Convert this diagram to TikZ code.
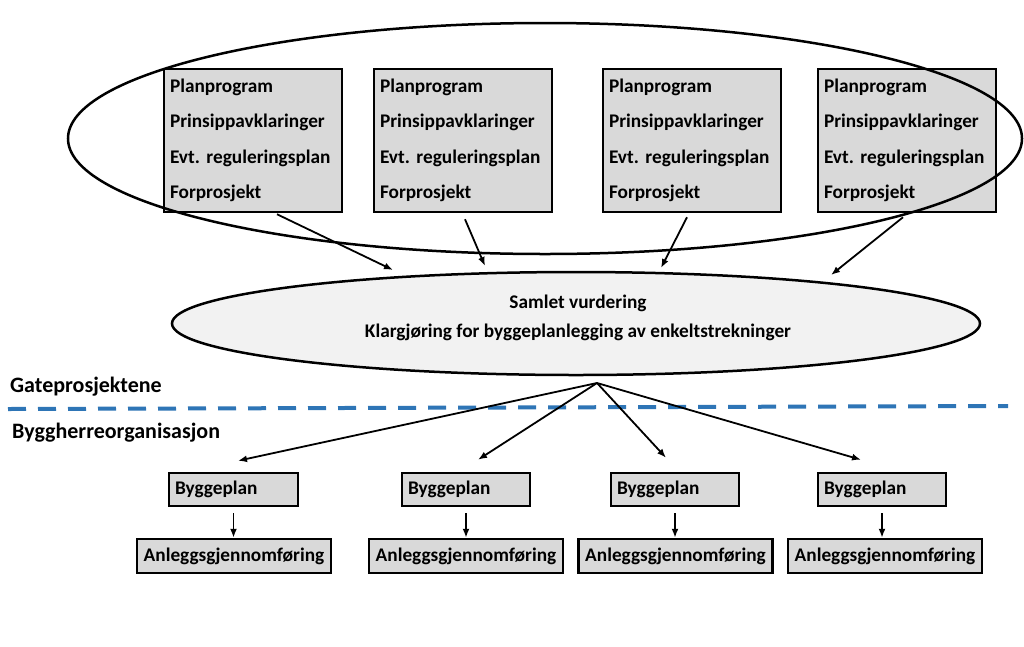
\documentclass[tikz,border=0pt]{standalone}
\usepackage{fontspec}
\setmainfont{Carlito}
\frenchspacing
\usetikzlibrary{shapes.geometric,arrows.meta,calc}
\definecolor{boxgray}{HTML}{D9D9D9}
\definecolor{ellgray}{HTML}{F2F2F2}
\definecolor{dashblue}{HTML}{2E75B6}
\tikzset{
  txt/.style={font=\fontsize{19.3}{35.5}\selectfont\bfseries},
  sidetxt/.style={font=\fontsize{22}{26}\selectfont\bfseries},
  topbox/.style={draw, line width=2.5pt, fill=boxgray, txt, align=left, text width=166pt, inner sep=6pt, minimum height=143pt},
  planbox/.style={draw, line width=2.5pt, fill=boxgray, txt, align=left, inner sep=6pt, minimum height=33pt},
  anlbox/.style={draw, line width=2.5pt, fill=boxgray, txt, align=center, inner sep=0pt, minimum width=194pt, minimum height=34pt},
  conn/.style={line width=1.8pt, -{Latex[length=9pt,width=7pt]}},
}
\begin{document}
\begin{tikzpicture}[x=1pt,y=-1pt]
\useasboundingbox (0,0) rectangle (1024,646);
% top boxes
\node[topbox] (b1) at (253,140.5) {Planprogram\\Prinsippavklaringer\\Evt. reguleringsplan\\Forprosjekt};
\node[topbox] (b2) at (463,140.5) {Planprogram\\Prinsippavklaringer\\Evt. reguleringsplan\\Forprosjekt};
\node[topbox] (b3) at (692,140.5) {Planprogram\\Prinsippavklaringer\\Evt. reguleringsplan\\Forprosjekt};
\node[topbox] (b4) at (907,140.5) {Planprogram\\Prinsippavklaringer\\Evt. reguleringsplan\\Forprosjekt};
% big ellipse
\node[draw, line width=2.5pt, ellipse, inner sep=0pt, minimum width=954pt, minimum height=231pt] (big) at (545,138.5) {};
% middle ellipse
\node[draw, line width=2.5pt, fill=ellgray, ellipse, inner sep=0pt, minimum width=808pt, minimum height=103pt] (mid) at (576,323.5) {};
\node[align=center, font=\fontsize{19.3}{29}\selectfont\bfseries] (midtxt) at (578,318) {Samlet vurdering\\Klargjøring for byggeplanlegging av enkeltstrekninger};
% arrows into middle ellipse
\coordinate (m1) at (393,270);
\coordinate (m2) at (485,266);
\coordinate (m3) at (661,268);
\coordinate (m4) at (831,275);
\draw[conn] ($(b1.south)+(24,1)$) -- (m1);
\draw[conn] ($(b2.south)+(2,6)$) -- (m2);
\draw[conn] ($(b3.south)+(-5,4)$) -- (m3);
\draw[conn] ($(b4.south)+(-4,4)$) -- (m4);
% dashed separator
\coordinate (dl) at (8,409);
\coordinate (dr) at (1008,406);
\draw[dashblue, line width=4pt, dash pattern=on 18pt off 12pt] (dl) -- (dr);
\node[sidetxt, anchor=west, inner sep=0pt] (gate) at (10,387) {Gateprosjektene};
\node[sidetxt, anchor=west, inner sep=0pt] (bygg) at (12,433) {Byggherreorganisasjon};
% bottom boxes
\node[planbox, text width=117pt] (p1) at (233.5,489.5) {Byggeplan};
\node[planbox, text width=116pt] (p2) at (466,489.5) {Byggeplan};
\node[planbox, text width=116pt] (p3) at (675,489.5) {Byggeplan};
\node[planbox, text width=116pt] (p4) at (882,489.5) {Byggeplan};
\node[anlbox] (a1) at (234,556) {Anleggsgjennomføring};
\node[anlbox] (a2) at (466,556) {Anleggsgjennomføring};
\node[anlbox] (a3) at (675.5,556) {Anleggsgjennomføring};
\node[anlbox] (a4) at (885,556) {Anleggsgjennomføring};
% apex arrows
\coordinate (apex) at (597,383);
\draw[conn] (apex) -- ($(p1.north)+(4.5,-11)$);
\draw[conn] (apex) -- ($(p2.north)+(12,-12)$);
\draw[conn] (apex) -- ($(p3.north)+(-9,-14)$);
\draw[conn] (apex) -- ($(p4.north)+(-21,-12)$);
% small arrows
\draw[conn] ($(p1.south)+(0,6)$) -- (p1.south |- a1.north);
\draw[conn] ($(p2.south)+(0,6)$) -- (p2.south |- a2.north);
\draw[conn] ($(p3.south)+(0,6)$) -- (p3.south |- a3.north);
\draw[conn] ($(p4.south)+(0,6)$) -- (p4.south |- a4.north);
\end{tikzpicture}
\end{document}
